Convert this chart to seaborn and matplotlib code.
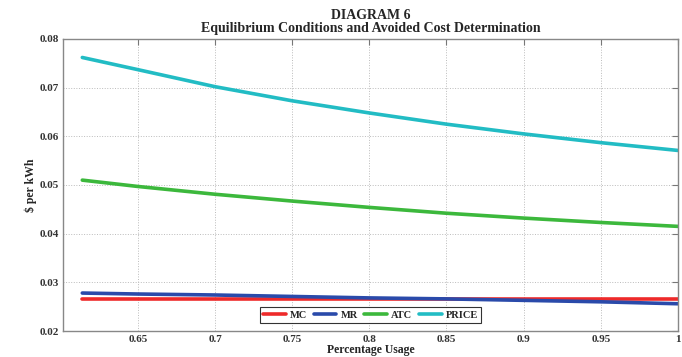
import pandas as pd
import seaborn as sns
import matplotlib.pyplot as plt

# values
usage = [0.614, 0.65, 0.70, 0.75, 0.80, 0.85, 0.90, 0.95, 1.00]
mc = [0.0265, 0.0265, 0.0265, 0.0265, 0.0265, 0.0265, 0.0265, 0.0265, 0.0265]
mr = [0.0278, 0.0276, 0.0274, 0.0271, 0.0268, 0.0266, 0.0263, 0.0260, 0.0256]
atc = [0.0510, 0.0497, 0.0481, 0.0467, 0.0454, 0.0442, 0.0432, 0.0423, 0.0415]
price = [0.0762, 0.0737, 0.0702, 0.0673, 0.0648, 0.0625, 0.0605, 0.0587, 0.0571]

series = ["MC", "MR", "ATC", "PRICE"]
colors = ["#ee2a2a", "#2a4aaa", "#3cb83c", "#22bcc4"]
xticks = [0.65, 0.7, 0.75, 0.8, 0.85, 0.9, 0.95, 1]
xtick_labels = ["0.65", "0.7", "0.75", "0.8", "0.85", "0.9", "0.95", "1"]
yticks = [0.02, 0.03, 0.04, 0.05, 0.06, 0.07, 0.08]
ytick_labels = ["0.02", "0.03", "0.04", "0.05", "0.06", "0.07", "0.08"]

df = pd.DataFrame({
    "usage": usage * 4,
    "value": mc + mr + atc + price,
    "series": [s for s in series for _ in usage],
})

sns.set_style("white")
plt.rcParams["font.family"] = ["Liberation Serif", "DejaVu Serif"]

fig = plt.figure(figsize=(6.82, 3.57), dpi=100)
ax = fig.add_axes([0.0924, 0.0728, 0.9016, 0.818])

sns.lineplot(data=df, x="usage", y="value", hue="series", hue_order=series,
             palette=colors, linewidth=2.6, ax=ax)

ax.set_xlim(0.6015, 1.0)
ax.set_ylim(0.02, 0.08)
ax.set_xticks(xticks)
ax.set_xticklabels(xtick_labels, fontsize=8, fontweight="bold", color="#333333")
ax.set_yticks(yticks)
ax.set_yticklabels(ytick_labels, fontsize=8, fontweight="bold", color="#333333")
ax.grid(True, linestyle=":", color="#bbbbbb", linewidth=0.7)
ax.tick_params(direction="in", length=4, color="#777777", top=True, right=True)
ax.tick_params(axis="x", pad=3)
ax.tick_params(axis="y", pad=3)
for sp in ax.spines.values():
    sp.set_color("#888888")
    sp.set_linewidth(1.0)

ax.set_xlabel("Percentage Usage", fontsize=8.5, fontweight="bold", labelpad=0)
ax.set_ylabel("$ per kWh", fontsize=8.5, fontweight="bold", labelpad=2)
ax.set_title("DIAGRAM 6\nEquilibrium Conditions and Avoided Cost Determination",
             fontsize=10, fontweight="bold", pad=5, linespacing=1.05)

leg = ax.legend(loc="lower center", ncol=4, frameon=True, fancybox=False,
                fontsize=7.5, handlelength=2.2, handletextpad=0.4,
                columnspacing=0.6, borderpad=0.3, bbox_to_anchor=(0.5, 0.01))
leg.get_frame().set_edgecolor("black")
leg.get_frame().set_linewidth(0.8)
for t in leg.get_texts():
    t.set_fontweight("bold")

fig.savefig("out.png", dpi=100)
